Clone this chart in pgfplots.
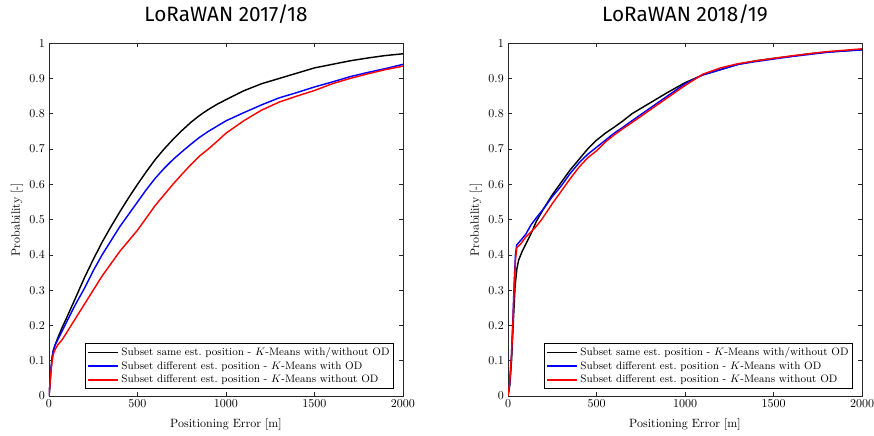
\documentclass[border=0pt]{standalone}
\usepackage{fontspec}
\newfontfamily\titlefont{Fira Sans}
\usepackage{pgfplots}
\pgfplotsset{compat=1.18}
\definecolor{axgray}{rgb}{0.15,0.15,0.15}
\pgfplotsset{
  cdfax/.style={
    width=295pt, height=294pt, scale only axis,
    xmin=0, xmax=2000, ymin=0, ymax=1,
    xtick={0,500,1000,1500,2000},
    ytick={0,0.1,0.2,0.3,0.4,0.5,0.6,0.7,0.8,0.9,1},
    yticklabels={0,0.1,0.2,0.3,0.4,0.5,0.6,0.7,0.8,0.9,1},
    scaled x ticks=false,
    /pgf/number format/1000 sep={},
    tick align=inside, tick pos=both,
    major tick length=3.5pt,
    axis line style={axgray, line width=0.6pt},
    every tick/.style={axgray, line width=0.6pt},
    tick label style={font=\normalsize},
    xlabel={Positioning Error [m]},
    ylabel={Probability [-]},
    label style={font=\normalsize},
    xlabel style={at={(axis description cs:0.5,-0.0794)}, anchor=center},
    ylabel style={at={(axis description cs:-0.0905,0.5)}, anchor=center},
    title style={font=\titlefont\fontsize{17.3}{20}\selectfont, at={(axis description cs:0.5,1.0398)}, anchor=base},
    legend style={at={(1,0)}, anchor=south east, xshift=-7.5pt, yshift=5.8pt,
      font=\small, draw=black, line width=0.5pt, cells={anchor=west},
      inner sep=1.5pt, row sep=-0.5pt},
    legend image code/.code={\draw[#1, line width=1.3pt] (0pt,0pt) -- (25pt,0pt);},
    every axis plot/.append style={line width=1.2pt},
  }
}
\begin{document}
\begin{tikzpicture}
\begin{axis}[cdfax, title={LoRaWAN 2017/18}, at={(0,0)}]
\addplot[black] coordinates {(0,0) (5,0.03) (10,0.07) (18,0.11) (25,0.13) (35,0.145) (50,0.165) (75,0.195) (100,0.222) (150,0.278) (200,0.335) (250,0.387) (300,0.436) (350,0.48) (400,0.522) (450,0.562) (500,0.60) (550,0.636) (600,0.67) (650,0.70) (700,0.727) (750,0.752) (800,0.775) (850,0.795) (900,0.812) (950,0.827) (1000,0.84) (1100,0.865) (1200,0.885) (1300,0.90) (1400,0.915) (1500,0.93) (1600,0.94) (1700,0.95) (1800,0.958) (1900,0.965) (2000,0.97)};
\addplot[blue] coordinates {(0,0) (5,0.03) (10,0.07) (18,0.11) (25,0.13) (35,0.145) (50,0.16) (75,0.185) (100,0.21) (150,0.26) (200,0.305) (250,0.355) (300,0.40) (350,0.44) (400,0.48) (450,0.515) (500,0.55) (550,0.585) (600,0.617) (650,0.645) (700,0.67) (750,0.692) (800,0.713) (850,0.733) (900,0.75) (950,0.765) (1000,0.78) (1100,0.803) (1200,0.825) (1300,0.845) (1400,0.86) (1500,0.876) (1600,0.89) (1700,0.905) (1800,0.917) (1900,0.928) (2000,0.94)};
\addplot[red] coordinates {(0,0) (5,0.03) (10,0.065) (18,0.10) (25,0.12) (35,0.132) (50,0.145) (75,0.16) (100,0.18) (150,0.22) (200,0.26) (250,0.30) (300,0.34) (350,0.375) (400,0.41) (450,0.44) (500,0.47) (550,0.505) (600,0.54) (650,0.57) (700,0.60) (750,0.628) (800,0.655) (850,0.68) (900,0.70) (950,0.722) (1000,0.745) (1100,0.78) (1200,0.81) (1300,0.833) (1400,0.85) (1500,0.866) (1600,0.885) (1700,0.90) (1800,0.913) (1900,0.925) (2000,0.935)};
\legend{Subset same est.\ position - $K$-Means with/without OD, Subset different est.\ position - $K$-Means with OD, Subset different est.\ position - $K$-Means without OD}
\end{axis}
\begin{axis}[cdfax, title={LoRaWAN 2018/19}, at={(382.5pt,0)}]
\addplot[black] coordinates {(0,0) (10,0.03) (20,0.10) (30,0.21) (40,0.31) (50,0.36) (60,0.385) (80,0.41) (100,0.43) (130,0.46) (160,0.495) (200,0.53) (250,0.57) (300,0.605) (350,0.64) (400,0.67) (450,0.70) (500,0.725) (550,0.745) (600,0.762) (650,0.78) (700,0.80) (800,0.83) (900,0.86) (1000,0.888) (1100,0.91) (1200,0.925) (1300,0.94) (1400,0.95) (1500,0.957) (1600,0.963) (1700,0.97) (1800,0.975) (1900,0.978) (2000,0.982)};
\addplot[blue] coordinates {(0,0) (10,0.04) (20,0.12) (27,0.21) (35,0.32) (42,0.40) (49,0.428) (70,0.44) (100,0.458) (130,0.485) (160,0.505) (200,0.53) (250,0.565) (300,0.595) (350,0.63) (400,0.66) (450,0.685) (500,0.705) (550,0.725) (600,0.745) (650,0.762) (700,0.78) (800,0.815) (900,0.85) (1000,0.885) (1100,0.91) (1200,0.925) (1300,0.94) (1400,0.948) (1500,0.955) (1600,0.962) (1700,0.968) (1800,0.974) (1900,0.978) (2000,0.981)};
\addplot[red] coordinates {(0,0) (10,0.04) (20,0.12) (28,0.21) (36,0.32) (43,0.39) (50,0.42) (70,0.43) (100,0.45) (150,0.475) (190,0.50) (250,0.545) (300,0.58) (350,0.615) (400,0.648) (450,0.675) (500,0.695) (550,0.72) (600,0.74) (650,0.758) (700,0.775) (800,0.81) (900,0.845) (1000,0.88) (1100,0.912) (1200,0.93) (1300,0.942) (1400,0.95) (1500,0.957) (1600,0.964) (1700,0.97) (1800,0.976) (1900,0.98) (2000,0.984)};
\legend{Subset same est.\ position - $K$-Means with/without OD, Subset different est.\ position - $K$-Means with OD, Subset different est.\ position - $K$-Means without OD}
\end{axis}
\pgfresetboundingbox
\path (-40.83pt,-32.5pt) rectangle (687.5pt,330pt);
\end{tikzpicture}
\end{document}
